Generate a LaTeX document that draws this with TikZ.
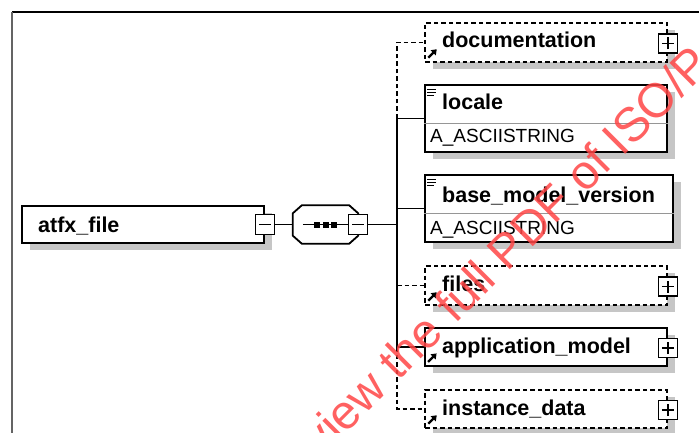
\documentclass[tikz,border=0pt]{standalone}
\usepackage{fontspec}
\setmainfont{Liberation Sans}
\usetikzlibrary{arrows.meta,shadows}
\definecolor{shadowgray}{RGB}{198,198,198}
\definecolor{wmred}{RGB}{255,70,70}
\definecolor{framegray}{RGB}{100,100,100}
\definecolor{divgray}{RGB}{150,150,150}
\tikzset{
  shadowed/.style={drop shadow={shadow xshift=8pt, shadow yshift=-7pt, fill=shadowgray, opacity=1}},
  elem/.style={draw, line width=1.8pt, fill=white, inner sep=0pt, shadowed},
  optelem/.style={elem, dash pattern=on 4.5pt off 3pt, line width=1.5pt},
  pmbox/.style={draw, line width=1.4pt, fill=white, minimum width=19pt, minimum height=19pt, inner sep=0pt},
  pmsign/.style={line width=1.5pt},
  conn/.style={line width=1.6pt},
  optconn/.style={line width=1.5pt, dash pattern=on 4.5pt off 3pt},
  namelbl/.style={anchor=base west, inner sep=0pt, font=\fontsize{21.5}{24}\selectfont\bfseries},
  typelbl/.style={anchor=base west, inner sep=0pt, font=\fontsize{19}{22}\selectfont},
  refarrow/.style={line width=2.2pt, -{Triangle[length=5pt,width=7pt]}},
  simpleicon/.style={line width=1pt},
  wmtext/.style={anchor=base west, inner sep=0pt, rotate=45, text=wmred, opacity=0.85, font=\fontsize{48}{50}\selectfont},
}
\newcommand{\mkplus}[2]{%
  \node[pmbox] (#1) at (#2) {};
  \draw[pmsign] ([xshift=-6pt]#1.center) -- ([xshift=6pt]#1.center)
                ([yshift=-6pt]#1.center) -- ([yshift=6pt]#1.center);}
\newcommand{\mkminus}[2]{%
  \node[pmbox, minimum height=20pt] (#1) at (#2) {};
  \draw[pmsign] ([xshift=-6pt]#1.center) -- ([xshift=6pt]#1.center);}
\newcommand{\refmark}[1]{%
  \draw[refarrow] ([shift={(4pt,5pt)}]#1.south west) -- ([shift={(12.5pt,13.5pt)}]#1.south west);}
\newcommand{\simplemark}[1]{%
  \draw[simpleicon] ([shift={(3pt,-5pt)}]#1.north west) -- ++(9pt,0)
                    ([shift={(3pt,-8pt)}]#1.north west) -- ++(9pt,0)
                    ([shift={(3pt,-11pt)}]#1.north west) -- ++(7pt,0);}
\begin{document}
\begin{tikzpicture}[x=1pt,y=-1pt]
\useasboundingbox (0,0) rectangle (699,433);
\fill[white] (0,0) rectangle (699,433);
% frame
\draw[line width=1.6pt] (12,12) -- (699,12);
\draw[framegray, line width=1.6pt] (12,12) -- (12,433);

% root element
\node[elem, minimum width=242pt, minimum height=37pt] (atfx) at (143,224.5) {};
\node[namelbl] (atfx-l) at (38,232) {atfx\_file};
\mkminus{atfxminus}{atfx.east}

% sequence compositor
\node[minimum width=65pt, minimum height=38pt, inner sep=0pt] (seq) at (325.5,224.5) {};
\fill[shadowgray, shift={(8pt,7pt)}]
  ([xshift=9pt]seq.north west) -- ([xshift=-9pt]seq.north east) -- ([yshift=-8pt]seq.north east)
  -- ([yshift=8pt]seq.south east) -- ([xshift=-9pt]seq.south east) -- ([xshift=9pt]seq.south west)
  -- ([yshift=8pt]seq.south west) -- ([yshift=-8pt]seq.north west) -- cycle;
\draw[line width=1.8pt, fill=white]
  ([xshift=9pt]seq.north west) -- ([xshift=-9pt]seq.north east) -- ([yshift=-8pt]seq.north east)
  -- ([yshift=8pt]seq.south east) -- ([xshift=-9pt]seq.south east) -- ([xshift=9pt]seq.south west)
  -- ([yshift=8pt]seq.south west) -- ([yshift=-8pt]seq.north west) -- cycle;
\draw[line width=1.5pt] ([xshift=10pt]seq.west) -- ([xshift=-10pt]seq.east);
\foreach \dx in {-8.5,0,8.5} {\fill ([xshift=\dx pt]seq.center) +(-3pt,-3pt) rectangle +(3pt,3pt);}
\mkminus{seqminus}{seq.east}

% child elements
\node[optelem, minimum width=242pt, minimum height=39pt] (doc) at (546,42.5) {};
\node[namelbl] (doc-l) at (442,48) {documentation};
\refmark{doc}
\mkplus{docplus}{[yshift=-1pt]doc.east}

\node[elem, minimum width=242pt, minimum height=67pt] (locale) at (546,118.5) {};
\draw[divgray, line width=0.9pt] (locale.west |- 0,123) -- (locale.east |- 0,123);
\node[namelbl] (locale-l) at (442,110) {locale};
\node[typelbl] (locale-t) at (430,143) {A\_ASCIISTRING};
\simplemark{locale}

\node[elem, minimum width=248pt, minimum height=67pt] (bmv) at (549,208.5) {};
\draw[divgray, line width=0.9pt] (bmv.west |- 0,213) -- (bmv.east |- 0,213);
\node[namelbl] (bmv-l) at (442,202) {base\_model\_version};
\node[typelbl] (bmv-t) at (430,234) {A\_ASCIISTRING};
\simplemark{bmv}

\node[optelem, minimum width=242pt, minimum height=39pt] (files) at (546,285.5) {};
\node[namelbl] (files-l) at (442,291) {files};
\refmark{files}
\mkplus{filesplus}{[yshift=-1pt]files.east}

\node[elem, minimum width=242pt, minimum height=38pt] (app) at (546,347) {};
\node[namelbl] (app-l) at (442,353) {application\_model};
\refmark{app}
\mkplus{appplus}{[yshift=-1pt]app.east}

\node[optelem, minimum width=242pt, minimum height=38pt] (inst) at (546,409) {};
\node[namelbl] (inst-l) at (442,415) {instance\_data};
\refmark{inst}
\mkplus{instplus}{[yshift=-1pt]inst.east}

% connectors
\coordinate (bus) at (397,224.5);
\draw[conn] (atfxminus.east) -- (seq.west);
\draw[conn] (seqminus.east) -- (bus);
\draw[optconn] (bus |- locale.west) -- (bus |- doc.west) -- (doc.west);
\draw[conn] (bus |- locale.west) -- (locale.west);
\draw[conn] (bus |- locale.west) -- (bus |- app.west) -- (app.west);
\draw[conn] (bus |- bmv.west) -- (bmv.west);
\draw[optconn] (bus |- files.west) -- (files.west);
\draw[optconn] (bus |- app.west) -- (bus |- inst.west) -- (inst.west);

% watermark
\begin{scope}
\clip (0,0) rectangle (699,433);
\node[wmtext] (wm) at (321,459) {view the full PDF of ISO/P};
\end{scope}
\end{tikzpicture}
\end{document}
